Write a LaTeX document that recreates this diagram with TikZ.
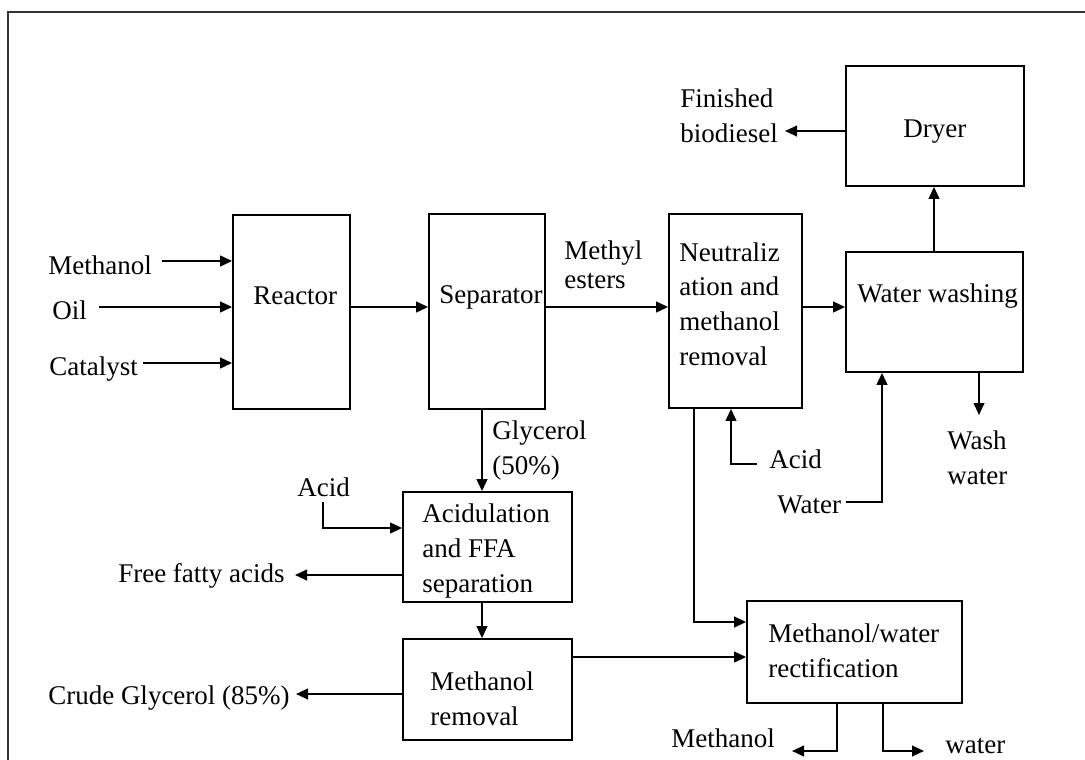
\documentclass[tikz,border=0pt]{standalone}
\usepackage{fontspec}
\setmainfont{Liberation Serif}
\usetikzlibrary{fit,arrows.meta}
\begin{document}
\begin{tikzpicture}[x=0.75pt,y=-0.75pt,
  box/.style={draw, line width=1.3pt, inner sep=0pt},
  arr/.style={line width=1.5pt, -{Triangle[length=9pt,width=8pt]}},
  txt/.style={inner sep=0pt, align=left, font=\fontsize{20.25pt}{25.9pt}\selectfont},
  frame/.style={line width=1.8pt, draw=black!80}]
\useasboundingbox (0,0) rectangle (1085,760);
\draw[frame] (8,760) -- (8,12) -- (1085,12);

% boxes
\node[box, fit={(233,215) (350,409)}] (reactor) {};
\node[box, fit={(429,214) (545,409)}] (separator) {};
\node[box, fit={(669,214) (802,408)}] (neutral) {};
\node[box, fit={(846,252) (1023,372)}] (washing) {};
\node[box, fit={(846,66) (1024,186)}] (dryer) {};
\node[box, fit={(403,492) (572,602)}] (acidul) {};
\node[box, fit={(403,639) (572,740)}] (mremoval) {};
\node[box, fit={(747,601) (962,703)}] (rect) {};

% box texts (base anchor = baseline of last line)
\node[txt, anchor=base west] (reactorT) at (253,304) {Reactor};
\node[txt, anchor=base west] (separatorT) at (439,303) {Separator};
\node[txt, anchor=base west] (neutralT) at (679,365) {Neutraliz\\ation and\\methanol\\removal};
\node[txt, anchor=base west] (washingT) at (857,302) {Water washing};
\node[txt, anchor=base west] (dryerT) at (903,137) {Dryer};
\node[txt, anchor=base west] (acidulT) at (422,592) {Acidulation\\and FFA\\separation};
\node[txt, anchor=base west] (mremovalT) at (430,725) {Methanol\\removal};
\node[txt, anchor=base west] (rectT) at (768,677) {Methanol/water\\rectification};

% stream labels
\node[txt, anchor=base west] (methanolIn) at (48,274) {Methanol};
\node[txt, anchor=base west] (oilIn) at (52,319) {Oil};
\node[txt, anchor=base west] (catIn) at (49,375) {Catalyst};
\node[txt, anchor=base west] (methyl1) at (564,259) {Methyl};
\node[txt, anchor=base west] (methyl2) at (564,288) {esters};
\node[txt, anchor=base west] (finished) at (680,142) {Finished\\biodiesel};
\node[txt, anchor=base west] (glycerol) at (492,474) {Glycerol\\(50\%)};
\node[txt, anchor=base west] (acidL) at (297,496) {Acid};
\node[txt, anchor=base west] (ffa) at (118,582) {Free fatty acids};
\node[txt, anchor=base west] (crude) at (48,704) {Crude Glycerol (85\%)};
\node[txt, anchor=base west] (acidR) at (769,468) {Acid};
\node[txt, anchor=base west] (waterIn) at (777,513) {Water};
\node[txt, anchor=base west] (washwater) at (947,484) {Wash\\water};
\node[txt, anchor=base west] (methOut) at (671,747) {Methanol};
\node[txt, anchor=base west] (waterOut) at (945,753) {water};

% free ends
\coordinate (mIn) at (162,261);
\coordinate (oIn) at (99,307);
\coordinate (cIn) at (143,363);
\coordinate (finEnd) at (785,131);
\coordinate (acidLtop) at (323,502);
\coordinate (ffaEnd) at (295,575);
\coordinate (crudeEnd) at (296,694);
\coordinate (acidRend) at (757,464);
\coordinate (waterStart) at (846,502);
\coordinate (washEnd) at (979,415);
\coordinate (methEnd) at (792,751);
\coordinate (waterEnd) at (924,751);

% connectors
\draw[arr] (mIn) -- (reactor.west |- mIn);
\draw[arr] (oIn) -- (reactor.west |- oIn);
\draw[arr] (cIn) -- (reactor.west |- cIn);
\draw[arr] (reactor.east |- 0,307) -- (separator.west |- 0,307);
\draw[arr] (separator.east |- 0,307) -- (neutral.west |- 0,307);
\draw[arr] (neutral.east |- 0,307) -- (washing.west |- 0,307);
\draw[arr] (washing.north -| 934,0) -- (dryer.south -| 934,0);
\draw[arr] (dryer.west |- finEnd) -- (finEnd);
\draw[arr] (separator.south -| 482,0) -- (acidul.north -| 482,0);
\draw[arr] (acidLtop) -- (323,528) -- (acidul.west |- 0,528);
\draw[arr] (acidul.west |- ffaEnd) -- (ffaEnd);
\draw[arr] (acidul.south -| 482,0) -- (mremoval.north -| 482,0);
\draw[arr] (mremoval.west |- crudeEnd) -- (crudeEnd);
\draw[arr] (mremoval.east |- 0,657) -- (rect.west |- 0,657);
\draw[arr] (neutral.south -| 694,0) -- (694,622) -- (rect.west |- 0,622);
\draw[arr] (acidRend) -- (731,464) -- (neutral.south -| 731,0);
\draw[arr] (waterStart) -- (882,502) -- (washing.south -| 882,0);
\draw[arr] (washing.south -| washEnd) -- (washEnd);
\draw[arr] (rect.south -| 837,0) -- (837,751) -- (methEnd);
\draw[arr] (rect.south -| 883,0) -- (883,751) -- (waterEnd);
\end{tikzpicture}
\end{document}
